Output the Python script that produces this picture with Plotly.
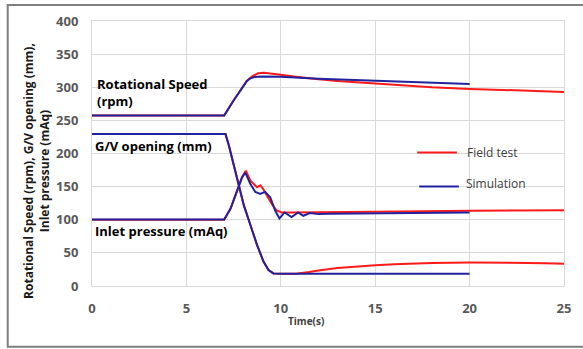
import plotly.graph_objects as go

# ---- data ----
field_speed_t = [0, 7.0, 7.5, 8.0, 8.2, 8.5, 8.8, 9.1, 9.5, 10, 10.8, 11.5, 12, 13, 14, 15, 16, 17, 18, 20, 22, 25]
field_speed = [257.5, 257.5, 280, 302, 310, 317, 321, 322, 321, 319, 316, 313.5, 312, 309.5, 307.5, 305.5, 303.5, 301.5, 300, 297.5, 295.5, 293]

sim_speed_t = [0, 7.0, 7.5, 8.0, 8.2, 8.4, 8.6, 9.0, 10, 12, 15, 20]
sim_speed = [257.5, 257.5, 280, 302, 309, 313.5, 315.5, 316.2, 316, 313, 310, 305]

field_gv_t = [0, 7.07, 7.25, 7.42, 7.6, 7.77, 8.04, 8.39, 8.74, 9.09, 9.35, 9.61, 10, 10.8, 11.5, 12, 13, 14, 15, 16, 17, 18, 20, 22, 23, 24, 25]
field_gv = [229.5, 229.5, 212, 192, 172, 152, 122, 92, 62, 36.5, 24, 19, 18.5, 18.5, 21, 23.5, 27, 29.5, 31.5, 33, 34, 34.8, 35.5, 35.5, 35.3, 34.5, 33.5]

sim_gv_t = [0, 7.07, 7.25, 7.42, 7.6, 7.77, 8.04, 8.39, 8.74, 9.09, 9.35, 9.61, 10, 20]
sim_gv = [229.5, 229.5, 212, 192, 172, 152, 122, 92, 62, 36.5, 24, 19, 18.5, 18.5]

field_p_t = [0, 7.0, 7.34, 7.69, 7.95, 8.15, 8.39, 8.74, 8.91, 9.05, 9.26, 9.52, 9.78, 10.04, 10.5, 12, 15, 20, 25]
field_p = [100, 100, 117, 144, 165, 174, 159, 149, 152, 147, 137, 124, 114, 111, 111, 111, 112, 113.5, 114.5]

sim_p_t = [0, 7.0, 7.34, 7.69, 7.95, 8.12, 8.39, 8.65, 8.91, 9.17, 9.44, 9.7, 9.93, 10.2, 10.57, 10.92, 11.19, 11.54, 12.0, 12.5, 15, 20]
sim_p = [100.5, 100.5, 117, 144, 164, 171, 154, 142, 139, 142, 134, 114, 102, 111, 104, 111, 106, 110, 108.5, 109, 110, 111]

series_names = ["Field test", "Simulation"]
curve_labels = ["Rotational Speed<br>(rpm)", "G/V opening (mm)", "Inlet pressure (mAq)"]
x_ticks = [0, 5, 10, 15, 20, 25]
y_ticks = [0, 50, 100, 150, 200, 250, 300, 350, 400]

RED = "#FF1A1A"
BLUE = "#22229E"
FONT = "Open Sans"

fig = go.Figure()
for t, v in [(field_speed_t, field_speed), (field_gv_t, field_gv), (field_p_t, field_p)]:
    fig.add_trace(go.Scatter(x=t, y=v, mode="lines", line=dict(color=RED, width=2),
                             name=series_names[0], showlegend=False))
for t, v in [(sim_speed_t, sim_speed), (sim_gv_t, sim_gv), (sim_p_t, sim_p)]:
    fig.add_trace(go.Scatter(x=t, y=v, mode="lines", line=dict(color=BLUE, width=2),
                             name=series_names[1], showlegend=False))

W, H = 583, 349
L, R, T, B = 92, 15, 20, 63
pw, ph = W - L - R, H - T - B

def px(x):
    return (x - L) / pw

def py(y):
    return (H - B - y) / ph

fig.update_layout(
    width=W, height=H,
    margin=dict(l=L, r=R, t=T, b=B),
    paper_bgcolor="white", plot_bgcolor="white",
    font=dict(family=FONT),
    showlegend=False,
    xaxis=dict(range=[0, 25], tickvals=x_ticks, showgrid=True, gridcolor="#D9D9D9", gridwidth=1,
               zeroline=False, showline=True, mirror=True, linecolor="#D9D9D9", linewidth=1,
               ticks="outside", ticklen=10, tickcolor="rgba(0,0,0,0)",
               tickfont=dict(family=FONT, size=13, color="#595959", weight="bold")),
    yaxis=dict(range=[0, 400], tickvals=y_ticks, showgrid=True, gridcolor="#D9D9D9", gridwidth=1,
               zeroline=False, showline=True, mirror=True, linecolor="#D9D9D9", linewidth=1,
               ticks="outside", ticklen=10, tickcolor="rgba(0,0,0,0)",
               tickfont=dict(family=FONT, size=13, color="#595959", weight="bold")),
)

annots = [
    dict(text="Rotational Speed (rpm), G/V opening (mm),<br>Inlet pressure (mAq)", textangle=-90,
         xref="paper", yref="paper", x=px(36), y=py(170), xanchor="center", yanchor="middle",
         showarrow=False, font=dict(size=12, color="#1a1a1a", weight="bold")),
    dict(text="Time(s)", xref="paper", yref="paper", x=px(307.5), y=py(321), xanchor="center",
         yanchor="middle", showarrow=False, font=dict(size=10, color="#404040", weight="bold")),
    dict(text=curve_labels[0], xref="paper", yref="paper", x=px(95), y=py(92), xanchor="left",
         yanchor="middle", align="left", showarrow=False, font=dict(size=13, color="black", weight="bold")),
    dict(text=curve_labels[1], xref="paper", yref="paper", x=px(93), y=py(145), xanchor="left",
         yanchor="middle", align="left", showarrow=False, font=dict(size=13, color="black", weight="bold")),
    dict(text=curve_labels[2], xref="paper", yref="paper", x=px(93), y=py(231), xanchor="left",
         yanchor="middle", align="left", showarrow=False, font=dict(size=13, color="black", weight="bold")),
    dict(text=series_names[0], xref="paper", yref="paper", x=px(468), y=py(152), xanchor="left",
         yanchor="middle", showarrow=False, font=dict(size=12, color="#404040")),
    dict(text=series_names[1], xref="paper", yref="paper", x=px(467), y=py(183), xanchor="left",
         yanchor="middle", showarrow=False, font=dict(size=12, color="#404040")),
]
fig.update_layout(annotations=annots)

shapes = [
    dict(type="line", xref="paper", yref="paper", x0=px(420), x1=px(460), y0=py(152), y1=py(152),
         line=dict(color=RED, width=2)),
    dict(type="line", xref="paper", yref="paper", x0=px(422), x1=px(462), y0=py(186), y1=py(186),
         line=dict(color=BLUE, width=2)),
    dict(type="rect", xref="paper", yref="paper", x0=px(7), x1=px(592), y0=py(347), y1=py(4),
         line=dict(color="#7F7F7F", width=2), fillcolor="rgba(0,0,0,0)", layer="below"),
]
fig.update_layout(shapes=shapes)

fig.write_html("out.html")
